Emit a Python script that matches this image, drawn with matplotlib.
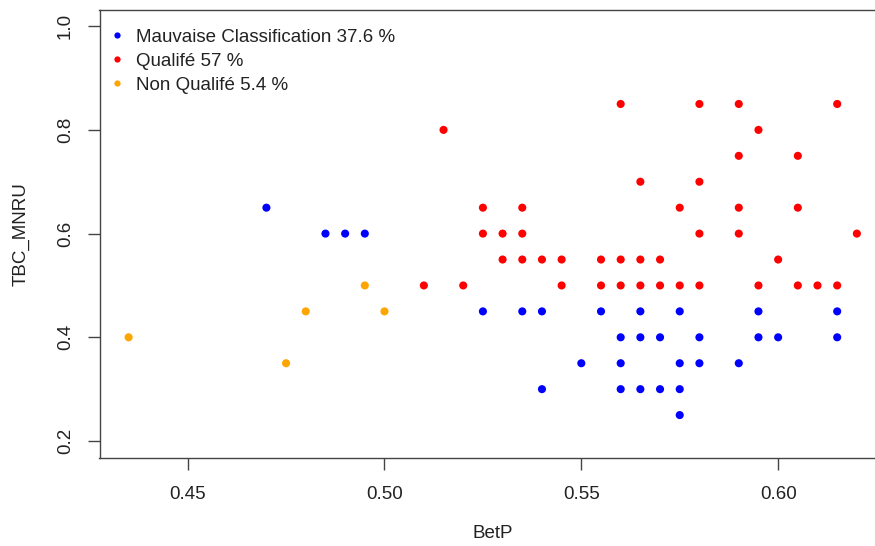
import matplotlib
matplotlib.use("Agg")
import matplotlib.pyplot as plt
from matplotlib.lines import Line2D

plt.rcParams['font.family'] = ['Liberation Sans', 'DejaVu Sans']

# Mauvaise Classification (blue)
mauvaise_x = [0.47, 0.485, 0.49, 0.495,
              0.525, 0.535, 0.54, 0.555, 0.565, 0.575, 0.595, 0.615,
              0.56, 0.565, 0.57, 0.58, 0.595, 0.60, 0.615,
              0.55, 0.56, 0.575, 0.58, 0.59,
              0.54, 0.56, 0.565, 0.57, 0.575,
              0.575]
mauvaise_y = [0.65, 0.60, 0.60, 0.60,
              0.45, 0.45, 0.45, 0.45, 0.45, 0.45, 0.45, 0.45,
              0.40, 0.40, 0.40, 0.40, 0.40, 0.40, 0.40,
              0.35, 0.35, 0.35, 0.35, 0.35,
              0.30, 0.30, 0.30, 0.30, 0.30,
              0.25]

# Qualifé (red)
qualife_x = [0.56, 0.58, 0.59, 0.615,
             0.515, 0.595,
             0.59, 0.605,
             0.565, 0.58,
             0.525, 0.535, 0.575, 0.59, 0.605,
             0.525, 0.53, 0.535, 0.58, 0.59, 0.62,
             0.53, 0.535, 0.54, 0.545, 0.555, 0.56, 0.565, 0.57, 0.60,
             0.51, 0.52, 0.545, 0.555, 0.56, 0.565, 0.57, 0.575, 0.58,
             0.595, 0.605, 0.61, 0.615]
qualife_y = [0.85, 0.85, 0.85, 0.85,
             0.80, 0.80,
             0.75, 0.75,
             0.70, 0.70,
             0.65, 0.65, 0.65, 0.65, 0.65,
             0.60, 0.60, 0.60, 0.60, 0.60, 0.60,
             0.55, 0.55, 0.55, 0.55, 0.55, 0.55, 0.55, 0.55, 0.55,
             0.50, 0.50, 0.50, 0.50, 0.50, 0.50, 0.50, 0.50, 0.50,
             0.50, 0.50, 0.50, 0.50]

# Non Qualifé (orange)
non_qualife_x = [0.435, 0.475, 0.48, 0.495, 0.50]
non_qualife_y = [0.40, 0.35, 0.45, 0.50, 0.45]

labels = ['Mauvaise Classification 37.6 %', 'Qualifé 57 %', 'Non Qualifé 5.4 %']
colors = ['#0000FF', '#FF0000', '#FFA500']
x_ticks = [0.45, 0.50, 0.55, 0.60]
y_ticks = [0.2, 0.4, 0.6, 0.8, 1.0]

fs = 13.5

fig = plt.figure(figsize=(8.75, 5.46), dpi=100)
ax = fig.add_axes([99.5 / 875, 1 - 457.6 / 546, 786.5 / 875, 448.0 / 546])

for xs, ys, c in zip([mauvaise_x, qualife_x, non_qualife_x],
                     [mauvaise_y, qualife_y, non_qualife_y], colors):
    ax.scatter(xs, ys, s=34, color=c, edgecolors='none', zorder=3)

ax.set_xlim(0.4276, 0.6274)
ax.set_ylim(0.168, 1.032)
ax.set_xticks(x_ticks)
ax.set_xticklabels(['%.2f' % v for v in x_ticks])
ax.set_yticks(y_ticks)
ax.set_yticklabels(['%.1f' % v for v in y_ticks], rotation=90, va='center')

for side in ['left', 'bottom', 'top', 'right']:
    ax.spines[side].set_color('#444444')
    ax.spines[side].set_linewidth(1.0)
ax.tick_params(axis='x', direction='out', length=8.4, width=1.0,
               color='#444444', labelsize=fs, labelcolor='#222222', pad=12)
ax.tick_params(axis='y', direction='out', length=8.4, width=1.0,
               color='#444444', labelsize=fs, labelcolor='#222222', pad=10)

ax.set_xlabel('BetP', fontsize=fs, color='#222222', labelpad=16)
ax.set_ylabel('TBC_MNRU', fontsize=fs, color='#222222', labelpad=20)

handles = [Line2D([], [], marker='o', linestyle='none', markersize=4.5,
                  markerfacecolor=c, markeredgecolor='none') for c in colors]
ax.legend(handles, labels, loc='upper left', bbox_to_anchor=(0.0127, 0.957),
          frameon=False, fontsize=fs, handlelength=0.8, handletextpad=0.6,
          labelspacing=0.36, borderaxespad=0.0, borderpad=0.0,
          labelcolor='#222222')

fig.savefig('out.png', dpi=100)
